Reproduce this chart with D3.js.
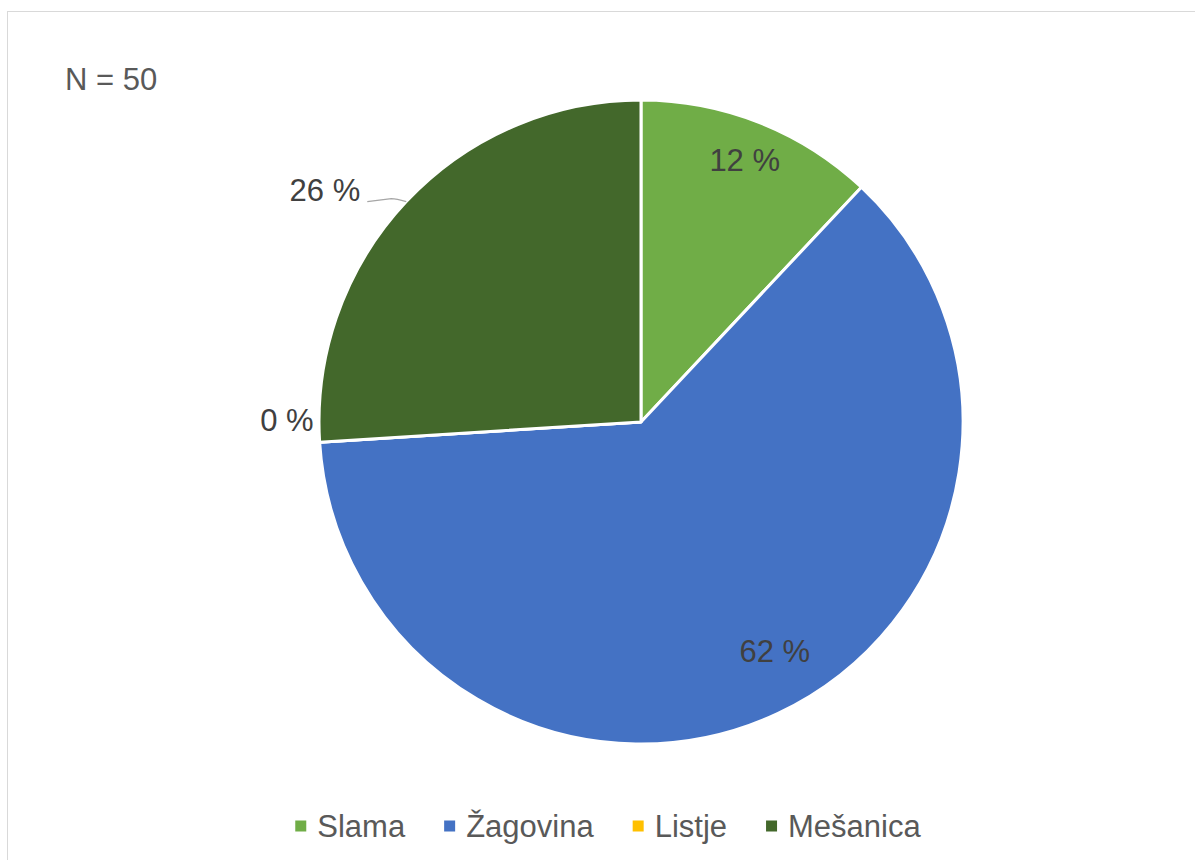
<!DOCTYPE html>
<html><head><meta charset="utf-8">
<script src="https://cdn.jsdelivr.net/npm/d3@7"></script>
<style>body{margin:0;background:#fff}svg{display:block;font-family:"Liberation Sans",Arial,sans-serif}</style>
</head><body>
<svg id="c" width="1195" height="860"></svg>
<script>
const categories = ["Slama", "Žagovina", "Listje", "Mešanica"];
const values = [12, 62, 0, 26];
const labels = ["12 %", "62 %", "0 %", "26 %"];
const colors = ["#70AD47", "#4472C4", "#FFC000", "#43682B"];
const noteText = "N = 50";

const svg = d3.select("#c");
svg.append("rect").attr("x", 7.5).attr("y", 11.5).attr("width", 1200).attr("height", 870)
  .attr("fill", "#fff").attr("stroke", "#d9d9d9").attr("stroke-width", 1);

svg.append("text").attr("x", 65).attr("y", 90).attr("font-size", 31).attr("fill", "#595959").text(noteText);

const cx = 641, cy = 422, R = 322;
const g = svg.append("g").attr("transform", `translate(${cx},${cy})`);
const pie = d3.pie().sort(null).value(d => d)(values);
const arc = d3.arc().innerRadius(0).outerRadius(R);
g.selectAll("path").data(pie).join("path")
  .attr("d", arc).attr("fill", (d, i) => colors[i])
  .attr("stroke", "#fff").attr("stroke-width", 3).attr("stroke-linejoin", "round");

const fs = 31;
pie.forEach((d, i) => {
  const mid = (d.startAngle + d.endAngle) / 2;
  if (values[i] >= 10 && values[i] < 20) {
    const inner = d3.arc().innerRadius(R * 0.875).outerRadius(R * 0.875);
    const [x, y] = inner.centroid(d);
    g.append("text").attr("x", x).attr("y", y).attr("text-anchor", "middle").attr("dy", "0.35em")
      .attr("font-size", fs).attr("fill", "#404040").text(labels[i]);
  } else if (values[i] >= 50) {
    const a2 = d3.arc().innerRadius(R * 0.823).outerRadius(R * 0.823)
      .startAngle(d.startAngle).endAngle(d.startAngle + (d.endAngle - d.startAngle) * 0.954);
    const [x, y] = a2.centroid();
    g.append("text").attr("x", x).attr("y", y).attr("text-anchor", "middle").attr("dy", "0.35em")
      .attr("font-size", fs).attr("fill", "#404040").text(labels[i]);
  } else if (values[i] === 0) {
    const ex = R * Math.sin(mid), ey = -R * Math.cos(mid);
    g.append("text").attr("x", ex - 6).attr("y", ey - 22).attr("text-anchor", "end").attr("dy", "0.35em")
      .attr("font-size", fs).attr("fill", "#404040").text(labels[i]);
  } else {
    const ex = R * Math.sin(mid), ey = -R * Math.cos(mid);
    const lx = ex - 39, ly = ey;
    g.append("path").attr("d", `M${ex},${ey}Q${ex - 10},${ey - 3} ${ex - 15},${ey - 3}L${lx},${ly}`)
      .attr("fill", "none").attr("stroke", "#a6a6a6").attr("stroke-width", 1.2);
    g.append("text").attr("x", lx - 7).attr("y", ly - 11).attr("text-anchor", "end").attr("dy", "0.35em")
      .attr("font-size", fs).attr("fill", "#404040").text(labels[i]);
  }
});

// legend
const lg = svg.append("g");
const items = categories.map((c, i) => {
  const gi = lg.append("g");
  gi.append("rect").attr("width", 11).attr("height", 11).attr("y", -5.5).attr("fill", colors[i]);
  const t = gi.append("text").attr("x", 22).attr("dy", "0.35em").attr("font-size", fs).attr("fill", "#595959").text(c);
  return {gi, w: 22 + t.node().getComputedTextLength()};
});
const gap = 39;
const total = d3.sum(items, d => d.w) + gap * (items.length - 1);
let x0 = 608 - total / 2;
items.forEach(it => { it.gi.attr("transform", `translate(${x0},826)`); x0 += it.w + gap; });
</script>
</body></html>
